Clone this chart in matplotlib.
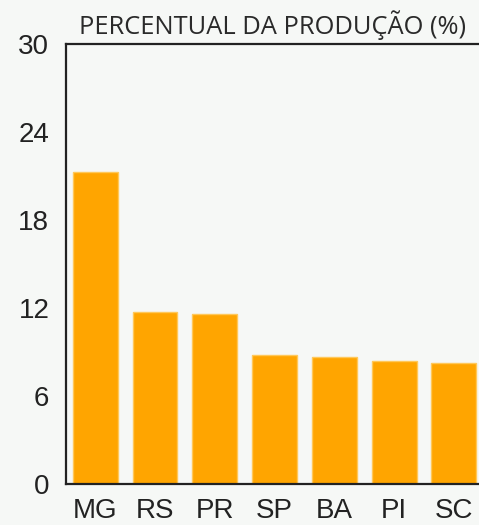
import matplotlib
matplotlib.use('Agg')
import matplotlib.pyplot as plt

# Dados
estados = ['MG', 'RS', 'PR', 'SP', 'BA', 'PI', 'SC']
percentual = [21.3, 11.75, 11.6, 8.77, 8.64, 8.36, 8.23]
ticks_y = [0, 6, 12, 18, 24, 30]

fundo = '#f6f8f6'
fig = plt.figure(figsize=(4.79, 5.25), dpi=100, facecolor=fundo)
ax = fig.add_axes([66 / 479, 1 - 484 / 525, 1 - 66 / 479, (484 - 44) / 525])
ax.set_facecolor(fundo)

x = list(range(len(estados)))
ax.bar(x, percentual, width=0.75, color='#ffa500', edgecolor='#ffc85a', linewidth=1)

ax.set_xlim(-0.49, 6.42)
ax.set_ylim(0, 30)
ax.set_yticks(ticks_y)
ax.set_xticks(x)
ax.set_xticklabels(estados, fontfamily='Liberation Sans', fontsize=20, color='#222222')
ax.set_yticklabels([str(t) for t in ticks_y], fontfamily='Liberation Sans', fontsize=20, color='#222222')
ax.tick_params(axis='both', length=0)
ax.tick_params(axis='y', pad=12)
ax.tick_params(axis='x', pad=10)

for lado in ['right', 'bottom', 'left', 'top']:
    ax.spines[lado].set_linewidth(1.6)
    ax.spines[lado].set_color('#222222')
ax.spines['right'].set_visible(False)

ax.set_title('PERCENTUAL DA PRODUÇÃO (%)', fontfamily='Open Sans', fontsize=18.4,
             color='#2a2a2a', pad=7)

fig.savefig('out.png', dpi=100, facecolor=fundo)
